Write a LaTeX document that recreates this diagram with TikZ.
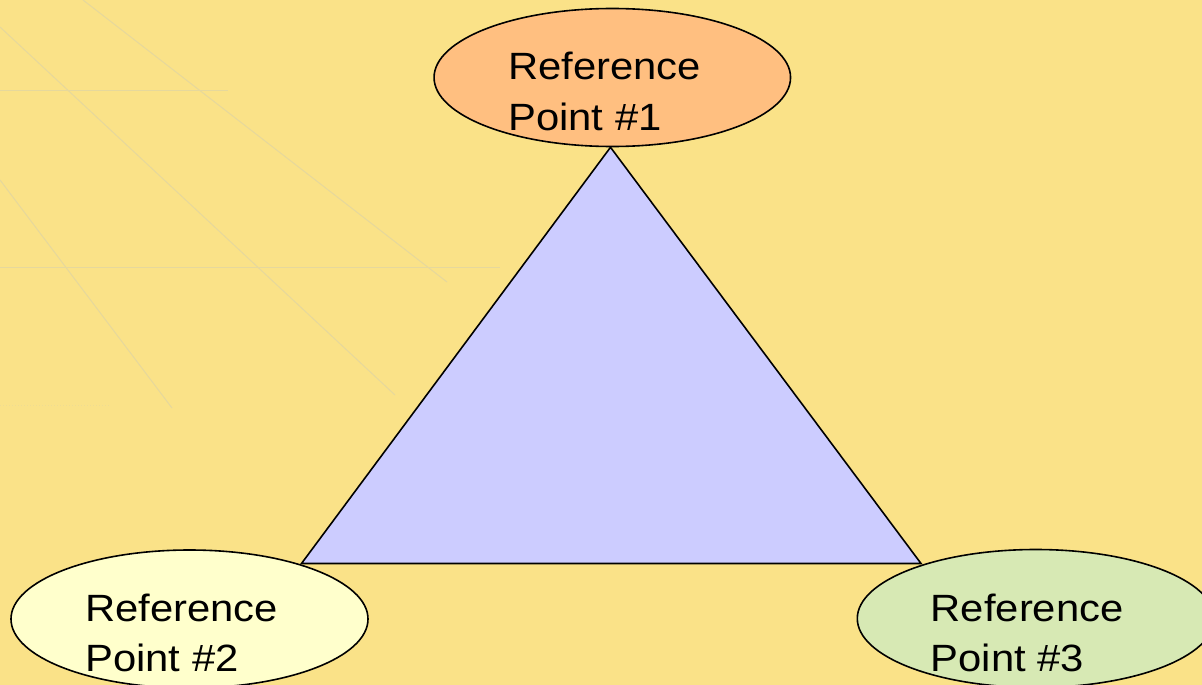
\documentclass[tikz,border=0pt]{standalone}
\usepackage{fontspec}
\setmainfont{Liberation Sans}
\usetikzlibrary{shapes.geometric}
\definecolor{bgc}{HTML}{FAE288}
\definecolor{faint}{HTML}{E6D89C}
\definecolor{orangec}{HTML}{FFBF80}
\definecolor{yellowc}{HTML}{FFFFCC}
\definecolor{greenc}{HTML}{D7E9B4}
\definecolor{tric}{HTML}{CCCCFF}
\tikzset{
  refell/.style={draw=black, line width=1.6pt, ellipse, inner sep=0pt},
  reftext/.style={anchor=base west, inner sep=0pt, xscale=1.1, transform shape,
    font=\fontsize{38}{50}\selectfont},
  bgline/.style={draw=faint, line width=1pt}
}
\begin{document}
\begin{tikzpicture}[x=1pt,y=-1pt]
\useasboundingbox (0,0) rectangle (1202,685);
\clip (0,0) rectangle (1202,685);
\fill[bgc] (0,0) rectangle (1202,685);
% faint background lines
\draw[bgline] (83,0) -- (447,282);
\draw[bgline] (0,27) -- (395,395);
\draw[bgline] (0,180) -- (172,408);
\draw[bgline] (0,90) -- (228,90);
\draw[bgline] (0,267) -- (500,267);
\draw[bgline, dotted, draw opacity=0.5] (0,405) -- (110,405);
% triangle
\coordinate (apex) at (610.5,147.3);
\coordinate (bl) at (301.5,563.5);
\coordinate (br) at (921,563.5);
\filldraw[fill=tric, draw=black, line width=1.6pt, line join=miter] (apex) -- (bl) -- (br) -- cycle;
% ellipses
\node[refell, fill=orangec, minimum width=356.5pt, minimum height=138pt] (e1) at (612.3,77.5) {};
\node[refell, fill=yellowc, minimum width=357pt, minimum height=138pt] (e2) at (189.5,619) {};
\node[refell, fill=greenc, minimum width=357pt, minimum height=138pt] (e3) at (1035.8,618.5) {};
% texts
\node[reftext] (t1a) at (508,79.5) {Reference};
\node[reftext] (t1b) at (508,130) {Point \#1};
\node[reftext] (t2a) at (85,621) {Reference};
\node[reftext] (t2b) at (85,671) {Point \#2};
\node[reftext] (t3a) at (930.5,621.5) {Reference};
\node[reftext] (t3b) at (930.5,671.5) {Point \#3};
\end{tikzpicture}
\end{document}
